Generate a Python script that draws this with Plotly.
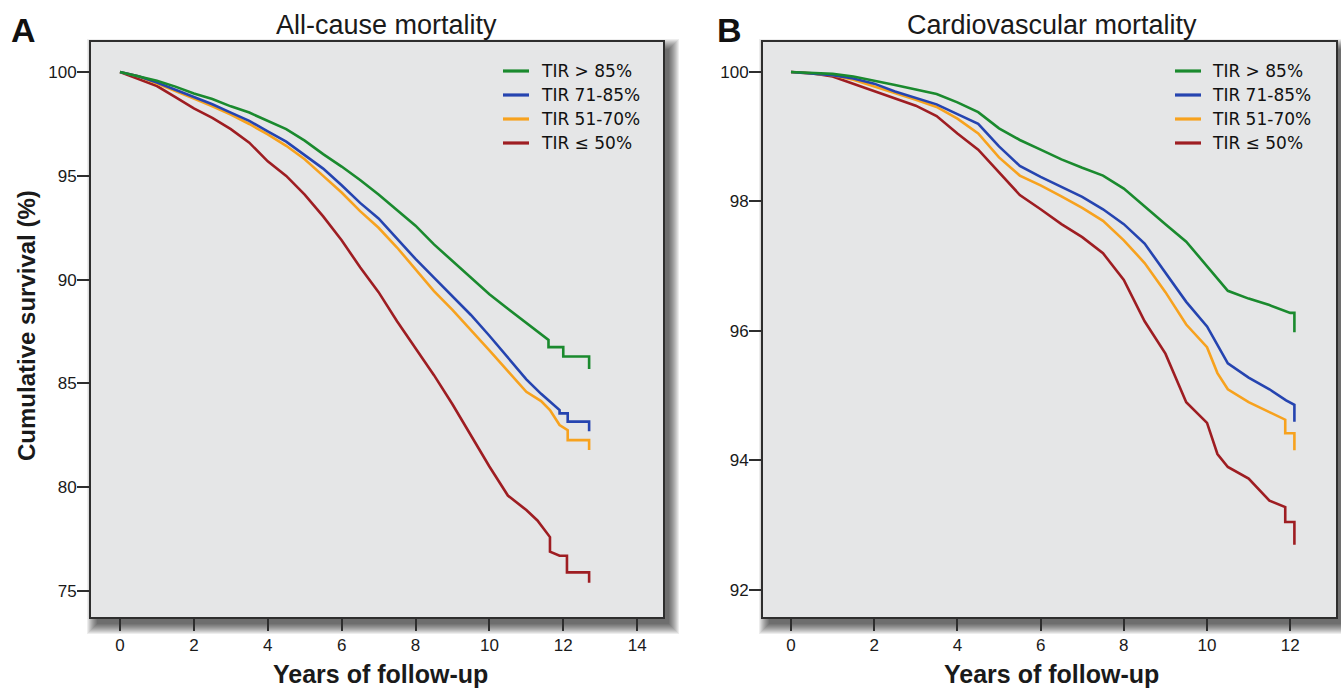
import plotly.graph_objects as go

# ---------------- data: Kaplan-Meier survival (%) by TIR group ----------------
GROUPS = ["TIR > 85%", "TIR 71-85%", "TIR 51-70%", "TIR \u2264 50%"]
COLORS = ["#1a8a2e", "#2544b0", "#f7a21e", "#9e1d22"]

# Panel A: all-cause mortality
a_years_gt85 = [0, 0.5, 1, 1.5, 2, 2.5, 3, 3.5, 4, 4.5, 5, 5.5, 6, 6.5, 7, 7.5, 8, 8.5, 9, 9.5, 10, 10.5, 11,
                11.6, 11.6, 12.0, 12.0, 12.7, 12.7]
a_surv_gt85 = [100, 99.8, 99.58, 99.3, 98.97, 98.7, 98.35, 98.05, 97.65, 97.25, 96.7, 96.05, 95.45, 94.8, 94.1,
               93.35, 92.6, 91.7, 90.9, 90.1, 89.3, 88.6, 87.9, 87.1, 86.75, 86.75, 86.3, 86.3, 85.7]

a_years_71_85 = [0, 0.5, 1, 1.5, 2, 2.5, 3, 3.5, 4, 4.5, 5, 5.5, 6, 6.5, 7, 7.5, 8, 8.5, 9, 9.5, 10, 10.5, 11,
                 11.4, 11.9, 11.9, 12.12, 12.12, 12.7, 12.7]
a_surv_71_85 = [100, 99.8, 99.5, 99.15, 98.8, 98.45, 98.05, 97.65, 97.15, 96.65, 96.0, 95.35, 94.55, 93.7, 92.95,
                91.95, 91.0, 90.1, 89.2, 88.3, 87.3, 86.25, 85.2, 84.5, 83.72, 83.56, 83.56, 83.16, 83.16, 82.7]

a_years_51_70 = [0, 0.5, 1, 1.5, 2, 2.5, 3, 3.5, 4, 4.5, 5, 5.5, 6, 6.5, 7, 7.5, 8, 8.5, 9, 9.5, 10, 10.5, 11,
                 11.4, 11.64, 11.9, 12.12, 12.12, 12.7, 12.7]
a_surv_51_70 = [100, 99.8, 99.45, 99.1, 98.73, 98.35, 97.95, 97.5, 97.0, 96.45, 95.8, 95.0, 94.2, 93.3, 92.5,
                91.55, 90.5, 89.45, 88.55, 87.6, 86.6, 85.6, 84.6, 84.15, 83.72, 83.0, 82.75, 82.27, 82.27, 81.8]

a_years_le50 = [0, 0.5, 1, 1.5, 2, 2.5, 3, 3.5, 4, 4.5, 5, 5.5, 6, 6.5, 7, 7.5, 8, 8.5, 9, 9.5, 10, 10.5, 11,
                11.3, 11.64, 11.64, 11.9, 12.1, 12.1, 12.7, 12.7]
a_surv_le50 = [100, 99.65, 99.33, 98.8, 98.25, 97.8, 97.25, 96.6, 95.7, 95.0, 94.1, 93.05, 91.9, 90.6, 89.4,
               88.0, 86.7, 85.4, 84.0, 82.5, 81.0, 79.6, 78.9, 78.4, 77.6, 76.9, 76.7, 76.7, 75.9, 75.9, 75.4]

# Panel B: cardiovascular mortality
b_years_gt85 = [0, 0.5, 1, 1.5, 2, 2.5, 3, 3.5, 4, 4.5, 5, 5.5, 6, 6.5, 7, 7.5, 8, 8.5, 9, 9.5, 10, 10.5, 11,
                11.5, 12, 12.1, 12.1]
b_surv_gt85 = [100, 99.99, 99.97, 99.93, 99.87, 99.8, 99.73, 99.66, 99.53, 99.38, 99.13, 98.95, 98.8, 98.65,
               98.52, 98.4, 98.2, 97.92, 97.65, 97.38, 97.0, 96.62, 96.5, 96.4, 96.28, 96.28, 95.98]

b_years_71_85 = [0, 0.5, 1, 1.5, 2, 2.5, 3, 3.5, 4, 4.5, 5, 5.5, 6, 6.5, 7, 7.5, 8, 8.5, 9, 9.5, 10, 10.5, 11,
                 11.5, 11.9, 12.1, 12.1]
b_surv_71_85 = [100, 99.98, 99.95, 99.9, 99.82, 99.7, 99.6, 99.5, 99.35, 99.2, 98.85, 98.55, 98.38, 98.22,
                98.07, 97.88, 97.65, 97.35, 96.9, 96.45, 96.07, 95.5, 95.28, 95.1, 94.93, 94.86, 94.6]

b_years_51_70 = [0, 0.5, 1, 1.5, 2, 2.5, 3, 3.5, 4, 4.5, 5, 5.5, 6, 6.5, 7, 7.5, 8, 8.5, 9, 9.5, 10, 10.25,
                 10.5, 11, 11.5, 11.88, 11.88, 12.1, 12.1]
b_surv_51_70 = [100, 99.98, 99.95, 99.88, 99.78, 99.67, 99.57, 99.46, 99.28, 99.05, 98.68, 98.4, 98.25, 98.08,
                97.9, 97.7, 97.4, 97.05, 96.6, 96.1, 95.75, 95.35, 95.1, 94.9, 94.75, 94.63, 94.42, 94.42, 94.16]

b_years_le50 = [0, 0.5, 1, 1.5, 2, 2.5, 3, 3.5, 4, 4.5, 5, 5.5, 6, 6.5, 7, 7.5, 8, 8.5, 9, 9.5, 10, 10.25,
                10.5, 11, 11.5, 11.88, 11.88, 12.1, 12.1]
b_surv_le50 = [100, 99.98, 99.93, 99.82, 99.7, 99.6, 99.48, 99.32, 99.05, 98.8, 98.45, 98.1, 97.88, 97.65,
               97.45, 97.2, 96.79, 96.15, 95.65, 94.9, 94.58, 94.1, 93.9, 93.72, 93.38, 93.28, 93.05, 93.05, 92.7]

# axis ticks
a_xticks = [0, 2, 4, 6, 8, 10, 12, 14]
a_yticks = [75, 80, 85, 90, 95, 100]
b_xticks = [0, 2, 4, 6, 8, 10, 12]
b_yticks = [92, 94, 96, 98, 100]

panel_a = [(a_years_gt85, a_surv_gt85), (a_years_71_85, a_surv_71_85),
           (a_years_51_70, a_surv_51_70), (a_years_le50, a_surv_le50)]
panel_b = [(b_years_gt85, b_surv_gt85), (b_years_71_85, b_surv_71_85),
           (b_years_51_70, b_surv_51_70), (b_years_le50, b_surv_le50)]

# ---------------- layout geometry ----------------
W, H = 1341, 689
A_DX = [91 / W, 663 / W]
B_DX = [763 / W, 1336 / W]
DY = [1 - 617 / H, 1 - 42 / H]

TEXT = "#1a1a1a"
FRAME = "#2e2e2e"
TICK_FONT = dict(family="Liberation Sans Narrow, Arial Narrow, Liberation Sans, Arial", size=17, color=TEXT)
LEG_FONT = dict(family="DejaVu Sans, Verdana, sans-serif", size=17, color="#111111")

fig = go.Figure()

# lowest group drawn first so that the better-survival curves sit on top
for i in reversed(range(4)):
    x, y = panel_a[i]
    fig.add_trace(go.Scatter(x=x, y=y, mode="lines", name=GROUPS[i], showlegend=False,
                             line=dict(color=COLORS[i], width=2.6),
                             xaxis="x", yaxis="y", hoverinfo="skip"))
for i in reversed(range(4)):
    x, y = panel_b[i]
    fig.add_trace(go.Scatter(x=x, y=y, mode="lines", name=GROUPS[i], showlegend=False,
                             line=dict(color=COLORS[i], width=2.6),
                             xaxis="x2", yaxis="y2", hoverinfo="skip"))

axis_common = dict(ticks="outside", ticklen=12, tickwidth=2, tickcolor=FRAME,
                   showline=True, mirror=True, linecolor=FRAME, linewidth=2,
                   showgrid=False, zeroline=False, tickfont=TICK_FONT, fixedrange=True)

fig.update_layout(
    width=W, height=H,
    margin=dict(l=0, r=0, t=0, b=0),
    paper_bgcolor="white",
    plot_bgcolor="rgba(0,0,0,0)",
    showlegend=False,
    xaxis=dict(domain=A_DX, range=[-0.785, 14.7], tickvals=a_xticks, anchor="y", **axis_common),
    yaxis=dict(domain=DY, range=[73.75, 101.45], tickvals=a_yticks, anchor="x",
               ticklabelstandoff=-3, **axis_common),
    xaxis2=dict(domain=B_DX, range=[-0.673, 13.1], tickvals=b_xticks, anchor="y2", **axis_common),
    yaxis2=dict(domain=DY, range=[91.583, 100.463], tickvals=b_yticks, anchor="x2",
                ticklabelstandoff=-3, **axis_common),
)

# soft drop shadow and grey panel background behind each plotting area
shapes = []
for dx in (A_DX, B_DX):
    for k in range(10, -1, -1):
        shapes.append(dict(type="rect", xref="paper", yref="paper", layer="below",
                           x0=dx[0] + (6 - k) / W, x1=dx[1] + (6 + k) / W,
                           y0=DY[0] - (7 + k) / H, y1=DY[1] - (7 - k) / H,
                           line=dict(width=0), fillcolor="rgba(0,0,0,0.07)"))
    shapes.append(dict(type="rect", xref="paper", yref="paper", layer="below",
                       x0=dx[0], x1=dx[1], y0=DY[0], y1=DY[1],
                       line=dict(width=0), fillcolor="#e5e6e7"))

# legend keys (short coloured strokes) for each panel
LEG_ROWS = [71, 95, 119, 143]
ann = []
for key_x0, text_x in ((503, 539), (1175, 1210)):
    for i, row in enumerate(LEG_ROWS):
        shapes.append(dict(type="line", xref="paper", yref="paper", layer="above",
                           x0=key_x0 / W, x1=(key_x0 + 26) / W, y0=1 - row / H, y1=1 - row / H,
                           line=dict(color=COLORS[i], width=3.2)))
        ann.append(dict(text=GROUPS[i], x=text_x / W, y=1 - row / H, xanchor="left", yanchor="middle",
                        font=LEG_FONT))
fig.update_layout(shapes=shapes)

# titles and axis labels
TITLE_FONT = dict(family="Liberation Sans, Arial, sans-serif", size=27, color=TEXT)
LETTER_FONT = dict(family="Liberation Sans, Arial, sans-serif", size=34, color="#111111", weight="bold")
AXT_FONT = dict(family="Liberation Sans, Arial, sans-serif", size=25, color=TEXT, weight="bold")
YT_FONT = dict(family="Liberation Sans, Arial, sans-serif", size=24, color=TEXT, weight="bold")

ann += [
    dict(text="A", x=9 / W, y=1 - 30 / H, xanchor="left", yanchor="middle", font=LETTER_FONT),
    dict(text="B", x=715 / W, y=1 - 30 / H, xanchor="left", yanchor="middle", font=LETTER_FONT),
    dict(text="All-cause mortality", x=386 / W, y=1 - 25 / H, xanchor="center", yanchor="middle",
         font=TITLE_FONT),
    dict(text="Cardiovascular mortality", x=1052 / W, y=1 - 25 / H, xanchor="center", yanchor="middle",
         font=TITLE_FONT),
    dict(text="Years of follow-up", x=380 / W, y=1 - 674 / H, xanchor="center", yanchor="middle",
         font=AXT_FONT),
    dict(text="Years of follow-up", x=1051 / W, y=1 - 674 / H, xanchor="center", yanchor="middle",
         font=AXT_FONT),
    dict(text="Cumulative survival (%)", x=26 / W, y=1 - 326 / H, xanchor="center", yanchor="middle",
         textangle=-90, font=YT_FONT),
]
for a in ann:
    a.update(xref="paper", yref="paper", showarrow=False)
fig.update_layout(annotations=ann)

fig.write_html("out.html")
